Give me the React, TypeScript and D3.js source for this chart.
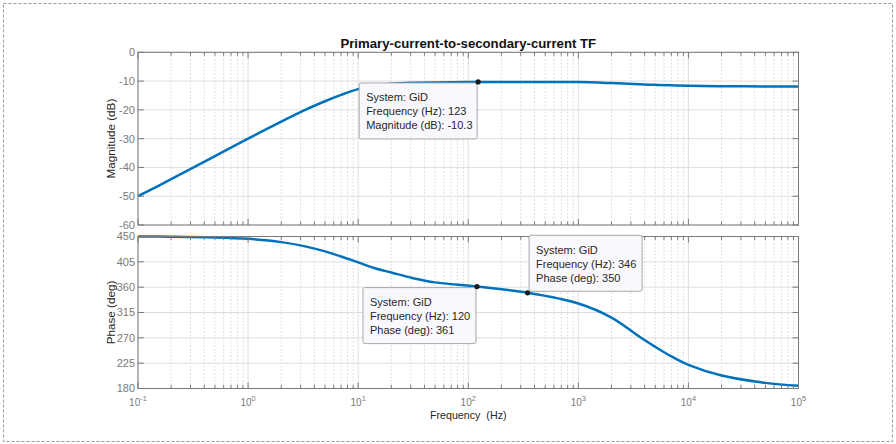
import * as d3 from "d3"

// bode data (GiD)
const freqHz = [0.1, 0.2, 0.5, 1, 2, 3.3, 5, 7, 10, 14, 20, 31.6, 50, 120, 346, 1000, 2000, 3600, 5000, 7000, 10000, 20000, 50000, 100000]
const magDb = [-50, -44.1, -36.1, -30, -24.1, -20.0, -17.0, -14.8, -12.8, -11.6, -10.95, -10.6, -10.45, -10.3, -10.3, -10.35, -10.7, -11.1, -11.3, -11.45, -11.6, -11.8, -11.85, -11.9]
const phaseDeg = [450, 449.6, 448.3, 445.8, 440, 432.5, 423.5, 414.5, 404, 394, 386, 376, 368.5, 361, 350, 331, 306, 272, 254, 237, 222, 203, 190, 185]

const magTicks = [0, -10, -20, -30, -40, -50, -60]
const phaseTicks = [180, 225, 270, 315, 360, 405, 450]
const decades = [0.1, 1, 10, 100, 1000, 10000, 100000]
const decadeExp = ["-1", "0", "1", "2", "3", "4", "5"]

const tips = [
  { panel: "mag", f: 123, v: -10.3, lines: ["System: GiD", "Frequency (Hz): 123", "Magnitude (dB): -10.3"], side: "lowerLeft", w: 118 },
  { panel: "ph", f: 346, v: 350, lines: ["System: GiD", "Frequency (Hz): 346", "Phase (deg): 350"], side: "upperRight", w: 113 },
  { panel: "ph", f: 120, v: 361, lines: ["System: GiD", "Frequency (Hz): 120", "Phase (deg): 361"], side: "lowerLeft", w: 113 },
]

const W = 896
const H = 444
const left = 138
const right = 798.5
const magTop = 52.3
const magBottom = 225
const phTop = 236.5
const phBottom = 388.5

const font = "'Liberation Sans', Arial, Helvetica, sans-serif"
const lineColor = "#0072BD"
const axisColor = "#7a7a7a"
const tickText = "#7a7a7a"
const gridMajor = "#dedede"
const gridMinor = "#d6d6d6"

function minorTicks() {
  const out: number[] = []
  decades.slice(0, -1).forEach(d => {
    for (let k = 2; k <= 9; k++) out.push(d * k)
  })
  return out
}

export default function App() {
  const x = d3.scaleLog().domain([0.1, 1e5]).range([left, right])
  const yMag = d3.scaleLinear().domain([-60, 0]).range([magBottom, magTop])
  const yPh = d3.scaleLinear().domain([180, 450]).range([phBottom, phTop])
  const minors = minorTicks()

  const magLine = d3.line<number>()
    .x((_, i) => x(freqHz[i]))
    .y(d => yMag(d))
    .curve(d3.curveCatmullRom.alpha(0.5))
  const phLine = d3.line<number>()
    .x((_, i) => x(freqHz[i]))
    .y(d => yPh(d))
    .curve(d3.curveCatmullRom.alpha(0.5))

  const panel = (top: number, bottom: number, y: d3.ScaleLinear<number, number>, ticks: number[], path: string, showX: boolean) => (
    <g>
      {/* minor x grid */}
      {minors.map(f => (
        <line key={"mg" + f} x1={x(f)} x2={x(f)} y1={top} y2={bottom} stroke={gridMinor} strokeDasharray="1.5,2" />
      ))}
      {decades.map(f => (
        <line key={"Mg" + f} x1={x(f)} x2={x(f)} y1={top} y2={bottom} stroke={gridMajor} />
      ))}
      {ticks.map(t => (
        <line key={"yg" + t} x1={left} x2={right} y1={y(t)} y2={y(t)} stroke={gridMajor} />
      ))}
      <path d={path} fill="none" stroke={lineColor} strokeWidth={2.5} />
      <rect x={left} y={top} width={right - left} height={bottom - top} fill="none" stroke={axisColor} strokeWidth={1} />
      {/* x ticks, bottom and top */}
      {minors.map(f => (
        <g key={"mt" + f}>
          <line x1={x(f)} x2={x(f)} y1={bottom} y2={bottom - 3.5} stroke={axisColor} />
          <line x1={x(f)} x2={x(f)} y1={top} y2={top + 3.5} stroke={axisColor} />
        </g>
      ))}
      {decades.map(f => (
        <g key={"Mt" + f}>
          <line x1={x(f)} x2={x(f)} y1={bottom} y2={bottom - 6} stroke={axisColor} />
          <line x1={x(f)} x2={x(f)} y1={top} y2={top + 6} stroke={axisColor} />
        </g>
      ))}
      {ticks.map(t => (
        <g key={"yt" + t}>
          <line x1={left} x2={left + 6} y1={y(t)} y2={y(t)} stroke={axisColor} />
          <line x1={right} x2={right - 6} y1={y(t)} y2={y(t)} stroke={axisColor} />
          <text x={left - 3} y={y(t)} dy="0.36em" textAnchor="end" fontSize={11} fill={tickText}>{t}</text>
        </g>
      ))}
      {showX && decades.map((f, i) => (
        <text key={"xl" + f} x={x(f)} y={406} textAnchor="middle" fontSize={10} fill={tickText}>
          10<tspan dy={-5} fontSize={7.5}>{decadeExp[i]}</tspan>
        </text>
      ))}
    </g>
  )

  return (
    <svg width={W} height={H} style={{ position: "absolute", left: 0, top: 0, background: "#fff" }} fontFamily={font}>
      <rect x={0} y={0} width={W} height={H} fill="#fff" />
      <rect x={3.5} y={3.5} width={889} height={438} fill="none" stroke="#9a9a9a" strokeDasharray="3,2" />

      {panel(magTop, magBottom, yMag, magTicks, magLine(magDb) || "", false)}
      {panel(phTop, phBottom, yPh, phaseTicks, phLine(phaseDeg) || "", true)}

      <text x={(left + right) / 2} y={48} textAnchor="middle" fontSize={13.2} fontWeight="bold" fill="#111">
        Primary-current-to-secondary-current TF
      </text>
      <text transform={`translate(114.5,${(magTop + magBottom) / 2}) rotate(-90)`} textAnchor="middle" fontSize={11.7} fill="#262626">
        Magnitude (dB)
      </text>
      <text transform={`translate(114.5,${(phTop + phBottom) / 2}) rotate(-90)`} textAnchor="middle" fontSize={11.7} fill="#262626">
        Phase (deg)
      </text>
      <text x={(left + right) / 2} y={419} textAnchor="middle" fontSize={10.7} fill="#262626" style={{ whiteSpace: "pre" }}>
        Frequency  (Hz)
      </text>

      {tips.map((t, i) => {
        const px = x(t.f)
        const py = t.panel === "mag" ? yMag(t.v) : yPh(t.v)
        const h = 56
        const bx = t.side === "lowerLeft" ? px - t.w - 1 : px + 1.5
        const by = t.side === "lowerLeft" ? py + 1 : py - h - 1.5
        return (
          <g key={"tip" + i}>
            <rect x={bx} y={by} width={t.w} height={h} rx={2} fill="#f9f9fd" stroke="#a8a8a8" />
            {t.lines.map((s, k) => (
              <text key={k} x={bx + 7} y={by + 14.5 + k * 14} dy="0.36em" fontSize={11} fill="#262626">{s}</text>
            ))}
            <circle cx={px} cy={py} r={2.6} fill="#1a1a1a" />
          </g>
        )
      })}
    </svg>
  )
}
